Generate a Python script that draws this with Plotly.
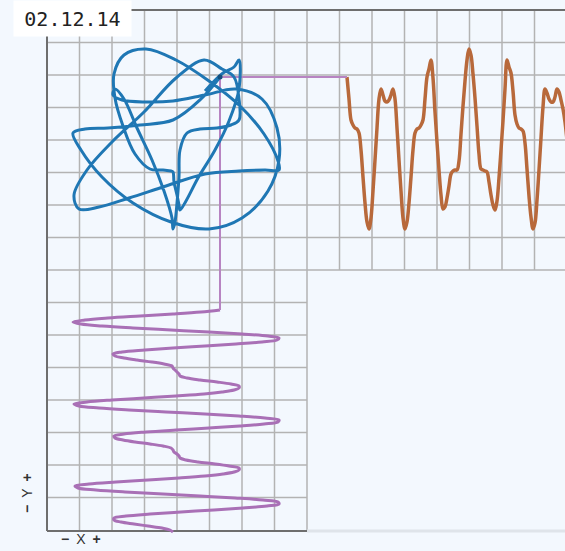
import plotly.graph_objects as go

# ---------------- data ----------------
# shared time samples
t_values = list(range(0, 224, 2))

# horizontal signal (purple wave / blue x)
x_signal = [
    43, 24, -4, -37, -69, -92, -104, -96, -75, -44,
    -6, 32, 65, 91, 102, 100, 85, 59, 28, -4,
    -32, -55, -64, -62, -53, -40, -25, -13, -5, -4,
    -2, 0, 2, 3, 10, 23, 40, 54, 62, 62,
    57, 45, 27, -1, -33, -65, -90, -103, -98, -78,
    -48, -11, 28, 62, 88, 102, 101, 87, 63, 32,
    -1, -31, -53, -63, -62, -54, -42, -27, -14, -6,
    -4, -3, 0, 2, 3, 9, 21, 38, 52, 62,
    62, 57, 46, 28, 2, -29, -61, -88, -102, -99,
    -81, -52, -14, 23, 58, 86, 101, 102, 90, 66,
    37, 4, -27, -51, -63, -63, -56, -43, -29, -15,
    -7, -4,
]

# vertical signal (orange wave / blue y)
y_signal = [
    63, 41, 20, 15, 12, 11, 7, -10, -37, -63,
    -82, -89, -78, -51, -20, 12, 41, 51, 45, 39,
    38, 40, 45, 51, 41, 12, -20, -51, -78, -89,
    -82, -63, -37, -10, 7, 11, 12, 15, 20, 41,
    63, 71, 80, 62, 28, -2, -30, -55, -69, -67,
    -58, -46, -34, -31, -30, -30, -21, 6, 34, 59,
    80, 91, 85, 66, 42, 14, -14, -29, -30, -31,
    -32, -42, -55, -65, -70, -61, -38, -10, 19, 51,
    80, 73, 67, 49, 25, 16, 12, 11, 9, -3,
    -29, -56, -77, -89, -83, -60, -30, 2, 33, 51,
    47, 41, 38, 38, 43, 51, 48, 40, 31, 18,
    0, -20,
]

blue_period_samples = 84  # samples forming one closed loop

date_label = "02.12.14"
x_axis_label = "<b>−</b>\u2002X\u2002<b>+</b>"
y_axis_label = "<b>−</b>\u2002Y\u2002<b>+</b>"

# ---------------- layout constants ----------------
CELL = 32.5
N = 8                      # cells in the phase square
SIDE = N * CELL            # 260
XMAX = 518
YMAX = 520
GAP = 40                   # offset of time origin from square edge
CX = SIDE / 2              # center of phase square (x)
CY = SIDE + SIDE / 2       # center of phase square (y)

BG = "#f3f8fe"
BLUE = "#1f77b4"
ORANGE = "#b8693b"
PURPLE = "#a970b6"
PURPLE_LIGHT = "#b784c2"
GRID = "#b3b3b3"
AXIS = "#6e6e6e"

fig = go.Figure()

bx = [CX + v for v in x_signal[:blue_period_samples]]
by = [CY + v for v in y_signal[:blue_period_samples]]

# purple wave: x signal vs time running downward
fig.add_trace(go.Scatter(
    x=[CX + v for v in x_signal],
    y=[SIDE - GAP - tt for tt in t_values],
    mode="lines", line=dict(color=PURPLE, width=3, shape="spline"),
    hoverinfo="skip"))

# orange wave: y signal vs time running rightward
fig.add_trace(go.Scatter(
    x=[SIDE + GAP + tt for tt in t_values],
    y=[CY + v for v in y_signal],
    mode="lines", line=dict(color=ORANGE, width=3.5, shape="spline"),
    hoverinfo="skip"))

# connectors from the current point
fig.add_trace(go.Scatter(
    x=[SIDE + GAP, CX + x_signal[0], CX + x_signal[0]],
    y=[CY + y_signal[0], CY + y_signal[0], SIDE - GAP],
    mode="lines", line=dict(color=PURPLE_LIGHT, width=2),
    hoverinfo="skip"))

# blue phase curve
fig.add_trace(go.Scatter(
    x=bx, y=by, mode="lines",
    line=dict(color=BLUE, width=3, shape="spline"),
    hoverinfo="skip"))

fig.add_trace(go.Scatter(
    x=[bx[0]], y=[by[0]], mode="markers",
    marker=dict(color="#154f7d", size=5), hoverinfo="skip"))

# ---------------- grid (L-shaped) ----------------
shapes = []
k = 1
while k * CELL <= XMAX + 0.1:
    xv = k * CELL
    y0 = 0 if xv <= SIDE + 0.1 else SIDE
    shapes.append(dict(type="line", xref="x", yref="y", x0=xv, x1=xv,
                       y0=y0, y1=YMAX, line=dict(color=GRID, width=1.5),
                       layer="below"))
    k += 1
j = 1
while j * CELL < YMAX - 0.1:
    yv = j * CELL
    x1 = XMAX if yv >= SIDE - 0.1 else SIDE
    shapes.append(dict(type="line", xref="x", yref="y", x0=0, x1=x1,
                       y0=yv, y1=yv, line=dict(color=GRID, width=1.5),
                       layer="below"))
    j += 1

# light baseline on the right
shapes.append(dict(type="line", xref="x", yref="y", x0=SIDE, x1=XMAX + 5,
                   y0=-1, y1=-1, line=dict(color="#dfe4ea", width=3),
                   layer="below"))
# darker frame lines
shapes.append(dict(type="line", xref="x", yref="y", x0=0, x1=0, y0=-1, y1=YMAX,
                   line=dict(color=AXIS, width=2), layer="below"))
shapes.append(dict(type="line", xref="x", yref="y", x0=0, x1=XMAX + 5,
                   y0=YMAX, y1=YMAX, line=dict(color=AXIS, width=2), layer="below"))
shapes.append(dict(type="line", xref="x", yref="y", x0=0, x1=SIDE,
                   y0=-1, y1=-1, line=dict(color=AXIS, width=2), layer="below"))

W, H = 565, 551
ML, MR, MT, MB = 43, 0, 5, 17
PW, PH = W - ML - MR, H - MT - MB


def px2paper_x(px):
    return (px - ML) / PW


def py2paper_y(py):
    return (H - MB - py) / PH


annotations = [
    dict(text=date_label, xref="paper", yref="paper",
         x=px2paper_x(13), y=py2paper_y(0), xanchor="left", yanchor="top",
         width=115, height=33, bgcolor="white", showarrow=False,
         font=dict(family="DejaVu Sans Mono", size=20, color="#222")),
    dict(text=x_axis_label, xref="paper", yref="paper",
         x=px2paper_x(81), y=py2paper_y(539), xanchor="center", yanchor="middle",
         showarrow=False, font=dict(family="Liberation Sans", size=14, color="#333")),
    dict(text=y_axis_label, xref="paper", yref="paper", textangle=-90,
         x=px2paper_x(27), y=py2paper_y(493), xanchor="center", yanchor="middle",
         showarrow=False, font=dict(family="Liberation Sans", size=14, color="#333")),
]

fig.update_layout(
    width=W, height=H, autosize=False,
    margin=dict(l=ML, r=MR, t=MT, b=MB, pad=0),
    paper_bgcolor=BG, plot_bgcolor=BG,
    showlegend=False,
    xaxis=dict(range=[-4, XMAX], showgrid=False, zeroline=False,
               showticklabels=False, ticks="", fixedrange=True),
    yaxis=dict(range=[-4, YMAX + 5], showgrid=False, zeroline=False,
               showticklabels=False, ticks="", fixedrange=True),
    shapes=shapes, annotations=annotations,
)

fig.write_html(
    "out.html",
    config={"displayModeBar": False},
    post_script="document.body.style.margin='0';"
                "document.body.style.background='" + BG + "';",
)
